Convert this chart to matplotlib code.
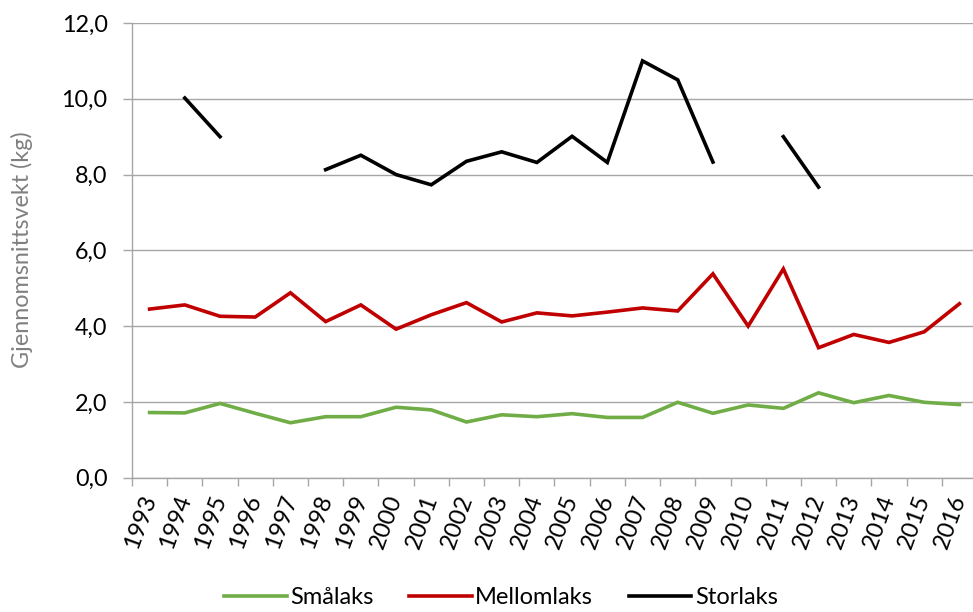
import numpy as np
import matplotlib
matplotlib.use("Agg")
import matplotlib.pyplot as plt

years = [str(y) for y in range(1993, 2017)]
smalaks = [1.72, 1.71, 1.96, 1.70, 1.45, 1.61, 1.61, 1.86, 1.79, 1.47, 1.66, 1.61,
           1.69, 1.59, 1.59, 1.99, 1.70, 1.92, 1.83, 2.24, 1.98, 2.17, 1.99, 1.93]
mellomlaks = [4.45, 4.56, 4.26, 4.24, 4.88, 4.12, 4.56, 3.92, 4.30, 4.62, 4.11, 4.35,
              4.27, 4.37, 4.48, 4.40, 5.38, 4.00, 5.51, 3.43, 3.78, 3.57, 3.85, 4.59]
storlaks = [np.nan, 10.02, 9.0, np.nan, np.nan, 8.13, 8.51, 8.0, 7.73, 8.35, 8.6, 8.32,
            9.01, 8.32, 11.0, 10.5, 8.33, np.nan, 9.0, 7.67, np.nan, np.nan, np.nan, np.nan]
series_names = ["Smålaks", "Mellomlaks", "Storlaks"]
colors = ["#70ad47", "#c00000", "#000000"]
yticks = [0, 2, 4, 6, 8, 10, 12]

plt.rcParams['font.family'] = ['Lato', 'DejaVu Sans']
FS = 16.8

W, H = 973, 612
fig = plt.figure(figsize=(W / 100, H / 100), dpi=100)
left, right, top, bottom = 132, 977, 23, 477.7
ax = fig.add_axes([left / W, 1 - bottom / H, (right - left) / W, (bottom - top) / H])

x = np.arange(len(years))
for vals, name, c in zip([smalaks, mellomlaks, storlaks], series_names, colors):
    ax.plot(x, vals, color=c, lw=2.6, label=name, solid_joinstyle='miter', clip_on=False)

ax.set_xlim(-0.5, len(years) - 0.5)
ax.set_ylim(0, 12)
ax.set_yticks(yticks)
ax.set_yticklabels([f"{v:.1f}".replace('.', ',') for v in yticks], fontsize=FS)
ax.set_xticks(np.arange(len(years) + 1) - 0.5, minor=False)
ax.set_xticklabels([])
ax.set_xticks(x, minor=True)
ax.set_xticklabels(years, minor=True, rotation=70, ha='right', va='center',
                   rotation_mode='anchor', fontsize=17.2)
ax.tick_params(axis='x', which='major', length=6, color='#a6a6a6', width=1)
ax.tick_params(axis='x', which='minor', length=0, pad=13)
ax.tick_params(axis='y', length=6.5, color='#a6a6a6', width=1, pad=11)

ax.grid(axis='y', color='#a6a6a6', lw=1)
ax.set_axisbelow(True)
for s in ['top', 'right']:
    ax.spines[s].set_visible(False)
for s in ['left', 'bottom']:
    ax.spines[s].set_color('#a6a6a6')
    ax.spines[s].set_linewidth(1)

fig.text(22 / W, 1 - 250 / H, "Gjennomsnittsvekt (kg)", rotation=90, ha='center',
         va='center', fontsize=FS, color='#808080')

fig.legend(loc='center', bbox_to_anchor=(501 / W, 1 - 598 / H), ncol=3, frameon=False,
           fontsize=17, handlelength=2.65, handletextpad=0.15, columnspacing=1.5,
           borderpad=0, borderaxespad=0)

fig.savefig("out.png", dpi=100)
